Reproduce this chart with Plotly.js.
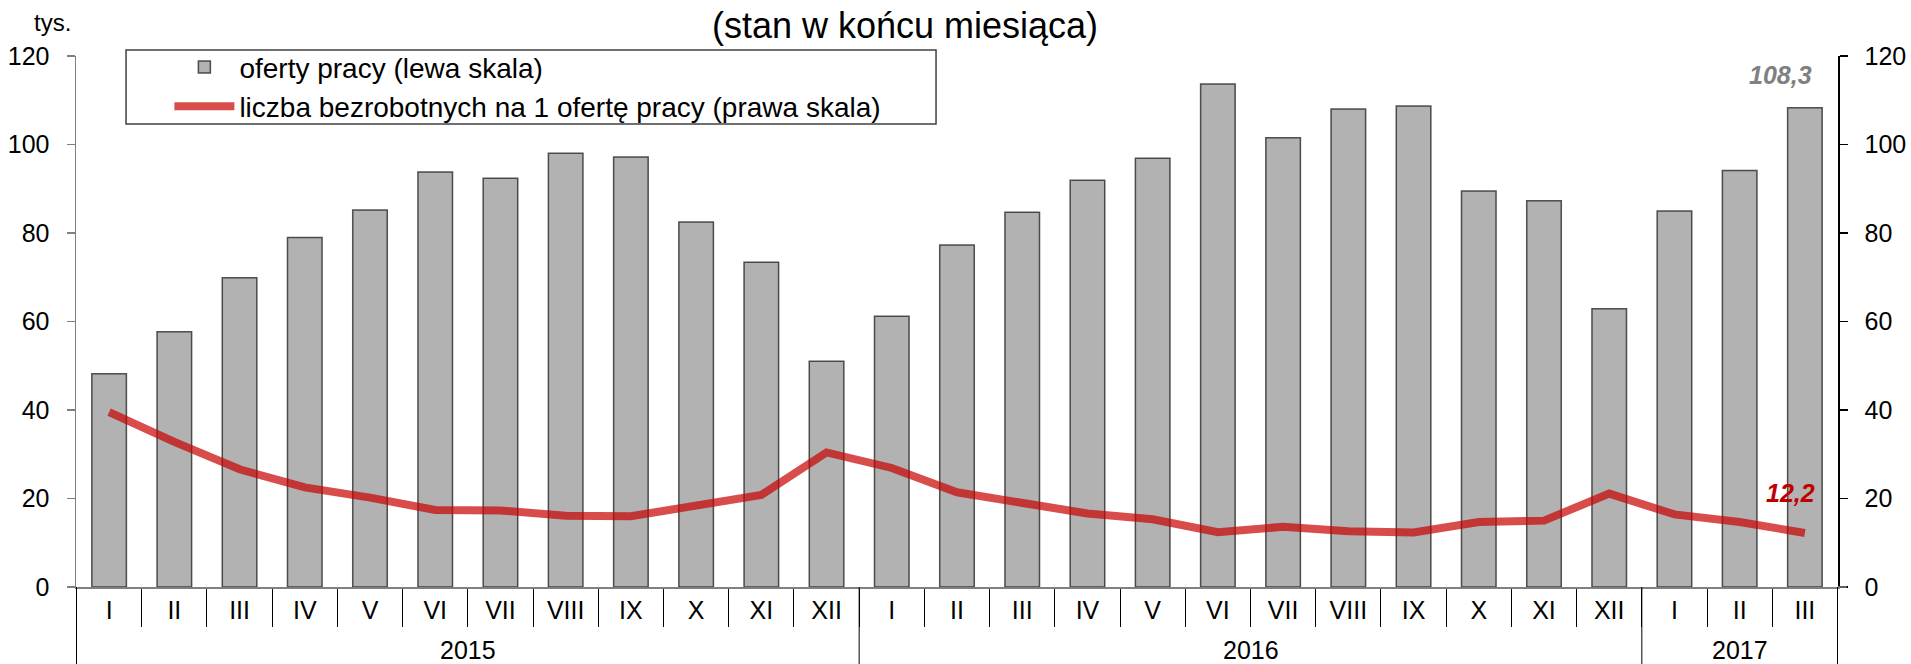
<!DOCTYPE html>
<html>
<head>
<meta charset="utf-8">
<script src="https://cdn.plot.ly/plotly-3.0.1.min.js"></script>
<style>
  html, body { margin: 0; padding: 0; background: #fff; }
  #chart { width: 1911px; height: 664px; }
</style>
</head>
<body>
<div id="chart"></div>
<script>
// ---- data ----
const yearLabels = [
  '2015','2015','2015','2015','2015','2015','2015','2015','2015','2015','2015','2015',
  '2016','2016','2016','2016','2016','2016','2016','2016','2016','2016','2016','2016',
  '2017','2017','2017'
];
const monthLabels = [
  'I','II','III','IV','V','VI','VII','VIII','IX','X','XI','XII',
  'I','II','III','IV','V','VI','VII','VIII','IX','X','XI','XII',
  'I','II','III'
];
// oferty pracy (tys.) - left scale
const jobOffers = [
  48.2, 57.7, 69.9, 79.0, 85.2, 93.8, 92.4, 98.0, 97.2, 82.5, 73.4, 51.0,
  61.2, 77.3, 84.7, 91.9, 96.9, 113.7, 101.5, 108.0, 108.7, 89.5, 87.3, 62.9,
  85.0, 94.1, 108.3
];
// liczba bezrobotnych na 1 ofertę pracy - right scale
const unemployedPerOffer = [
  39.5, 32.8, 26.6, 22.5, 20.2, 17.4, 17.3, 16.1, 16.0, 18.3, 20.8, 30.4,
  26.9, 21.4, 18.9, 16.6, 15.3, 12.4, 13.6, 12.6, 12.3, 14.7, 15.0, 21.1,
  16.4, 14.7, 12.2
];
const seriesNames = ['oferty pracy (lewa skala)', 'liczba bezrobotnych na 1 ofertę pracy (prawa skala)'];
const chartTitle = '(stan w końcu miesiąca)';
const unitLabel = 'tys.';

// ---- chart ----
const FONT = 'Liberation Sans, Arial, sans-serif';
const fmt = v => v.toFixed(1).replace('.', ',');
const catIds = yearLabels.map((y, i) => y + '-' + monthLabels[i]);
const last = jobOffers.length - 1;

// year groups (from the data arrays)
const groups = [];
yearLabels.forEach((y, i) => {
  if (!groups.length || groups[groups.length - 1].year !== y) groups.push({ year: y, first: i, last: i });
  else groups[groups.length - 1].last = i;
});

const AX_DEPTH = -0.145;   // paper fraction below the plot (divider length)
const YEAR_Y = -0.1186;    // paper fraction for year labels

const dividerShapes = groups.map(g => ({
  type: 'line', xref: 'x', yref: 'paper',
  x0: g.first - 0.5, x1: g.first - 0.5, y0: 0, y1: AX_DEPTH,
  line: { color: '#000', width: 1 }
}));
dividerShapes.push({
  type: 'line', xref: 'x', yref: 'paper',
  x0: groups[groups.length - 1].last + 0.5, x1: groups[groups.length - 1].last + 0.5, y0: 0, y1: AX_DEPTH,
  line: { color: '#000', width: 1 }
});

const yearAnnotations = groups.map(g => ({
  text: g.year, xref: 'x', yref: 'paper',
  x: (g.first + g.last) / 2, y: YEAR_Y, xanchor: 'center', yanchor: 'middle',
  showarrow: false, font: { family: FONT, size: 25, color: '#000' }
}));

const traces = [
  {
    type: 'bar',
    name: seriesNames[0],
    x: catIds,
    y: jobOffers,
    marker: { color: '#b2b2b2', line: { color: 'rgba(30,30,30,0.75)', width: 1.5 } },
    hoverinfo: 'skip'
  },
  {
    type: 'scatter',
    mode: 'lines',
    name: seriesNames[1],
    x: catIds,
    y: unemployedPerOffer,
    yaxis: 'y2',
    line: { color: 'rgba(200,0,0,0.7)', width: 8 },
    hoverinfo: 'skip'
  }
];

const layout = {
  width: 1911,
  height: 664,
  margin: { l: 76, r: 73, t: 56, b: 77, pad: 0 },
  paper_bgcolor: '#fff',
  plot_bgcolor: '#fff',
  font: { family: FONT, size: 25, color: '#000' },
  showlegend: true,
  bargap: 0.47,
  title: {
    text: chartTitle,
    font: { family: FONT, size: 36, color: '#000' },
    x: 0.4736, xanchor: 'center',
    y: 0.962, yanchor: 'middle'
  },
  xaxis: {
    type: 'category',
    tickmode: 'array', tickvals: catIds, ticktext: monthLabels,
    showline: true, linecolor: '#808080', linewidth: 1.5,
    ticks: 'outside', tickson: 'boundaries', ticklen: 38, tickcolor: '#000', tickwidth: 1,
    ticklabelstandoff: 0,
    showgrid: false, zeroline: false,
    tickfont: { family: FONT, size: 25, color: '#000' }
  },
  yaxis: {
    range: [0, 120], dtick: 20, tick0: 0,
    showline: true, linecolor: '#808080', linewidth: 1.5,
    ticks: 'outside', ticklen: 8, tickcolor: '#808080', tickwidth: 1.5,
    ticklabelstandoff: 12,
    showgrid: false, zeroline: false,
    tickfont: { family: FONT, size: 25, color: '#000' }
  },
  yaxis2: {
    overlaying: 'y', side: 'right',
    range: [0, 120], dtick: 20, tick0: 0,
    showline: true, linecolor: '#000', linewidth: 1.5,
    ticks: 'outside', ticklen: 8, tickcolor: '#000', tickwidth: 1.5,
    ticklabelstandoff: 12,
    showgrid: false, zeroline: false,
    tickfont: { family: FONT, size: 25, color: '#000' }
  },
  legend: {
    x: 0.053, xanchor: 'left',
    y: 1.026, yanchor: 'top',
    bgcolor: 'rgba(0,0,0,0)',
    borderwidth: 0,
    itemwidth: 60,
    font: { family: FONT, size: 28, color: '#000' },
    traceorder: 'normal'
  },
  shapes: [
    {
      type: 'rect', xref: 'paper', yref: 'paper',
      x0: 0.0284, x1: 0.4881, y0: 0.872, y1: 1.0113,
      line: { color: '#404040', width: 1.5 }, fillcolor: 'rgba(0,0,0,0)'
    },
    {
      type: 'line', xref: 'paper', yref: 'paper',
      x0: 1, x1: 1.005, y0: 0, y1: 0,
      line: { color: '#808080', width: 1.5 }
    }
  ].concat(dividerShapes),
  annotations: [
    {
      text: unitLabel, xref: 'paper', yref: 'paper',
      x: -0.0136, y: 1.064, xanchor: 'center', yanchor: 'middle',
      showarrow: false, font: { family: FONT, size: 24, color: '#000' }
    },
    {
      text: fmt(jobOffers[last]), xref: 'x', yref: 'y',
      x: last, y: jobOffers[last], xanchor: 'center', yanchor: 'middle',
      xshift: -24, yshift: 33, showarrow: false,
      font: { family: FONT, size: 25, color: '#808080', weight: 'bold', style: 'italic' }
    },
    {
      text: fmt(unemployedPerOffer[last]), xref: 'x', yref: 'y2',
      x: last, y: unemployedPerOffer[last], xanchor: 'center', yanchor: 'middle',
      xshift: -14, yshift: 40, showarrow: false,
      font: { family: FONT, size: 25, color: '#c00000', weight: 'bold', style: 'italic' }
    }
  ].concat(yearAnnotations)
};

Plotly.newPlot('chart', traces, layout, { staticPlot: true, displayModeBar: false });
</script>
</body>
</html>
